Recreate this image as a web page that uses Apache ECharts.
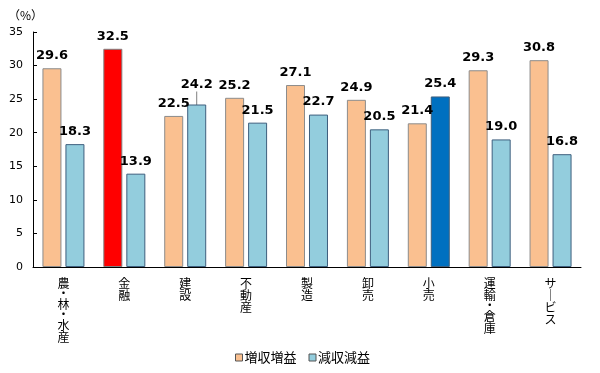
<!DOCTYPE html>
<html><head><meta charset="utf-8">
<script src="https://cdn.jsdelivr.net/npm/echarts@6/dist/echarts.min.js"></script>
<style>html,body{margin:0;padding:0;background:#fff}#c{width:600px;height:373px}</style>
</head><body><div id="c"></div>
<script>
const categories = ['農・林・水産','金融','建設','不動産','製造','卸売','小売','運輸・倉庫','サービス'];
const seriesNames = ['増収増益','減収減益'];
const zoushuValues = [29.6, 32.5, 22.5, 25.2, 27.1, 24.9, 21.4, 29.3, 30.8];
const genshuValues = [18.3, 13.9, 24.2, 21.5, 22.7, 20.5, 25.4, 19.0, 16.8];
const yTicks = [0,5,10,15,20,25,30,35];

const font = '"MS PGothic","Noto Sans CJK JP",sans-serif';
const chart = echarts.init(document.getElementById('c'), null, {renderer:'canvas'});

function catFmt(v){
  const chars = Array.from(v.replace('ー','｜'));
  return chars.map(ch => ch === '・' ? '{d|・}' : '{c|' + ch + '}').join('\n');
}

const peach = {color:'#FAC090', borderColor:'#8C8C8C', borderWidth:1};
const blue = {color:'#93CDDD', borderColor:'#3E5F7E', borderWidth:1};

const lbl = {show:true, position:'top', distance:6, color:'#000', fontWeight:'bold', fontSize:13, fontFamily:'Verdana,"DejaVu Sans",sans-serif'};

chart.setOption({
  animation:false,
  grid:{left:33, right:19, top:32, bottom:106},
  legend:{
    top:346, left:230, icon:'rect', itemWidth:7, itemHeight:7, itemGap:12,
    textStyle:{fontSize:13, color:'#000', fontFamily:font, padding:[0,0,0,-3]},
    data:[{name:seriesNames[0], itemStyle:{color:'#FAC090', borderColor:'#555', borderWidth:1}},
          {name:seriesNames[1], itemStyle:{color:'#93CDDD', borderColor:'#555', borderWidth:1}}]
  },
  graphic:[{type:'text', left:8, top:9, style:{text:'（%）', font:'12px '+font, fill:'#000'}}],
  xAxis:{
    type:'category', data:categories,
    axisLine:{lineStyle:{color:'#000'}},
    axisTick:{inside:true, length:4, lineStyle:{color:'#000'}},
    axisLabel:{
      interval:0, margin:10, formatter:catFmt, verticalAlign:'top',
      rich:{c:{fontSize:12, lineHeight:12, color:'#000', fontFamily:font}, d:{fontSize:12, lineHeight:9, color:'#000', fontFamily:font}}
    }
  },
  yAxis:{
    type:'value', min:0, max:35, interval:5,
    axisLine:{show:true, lineStyle:{color:'#000'}},
    axisTick:{show:true, inside:true, length:4, lineStyle:{color:'#000'}},
    splitLine:{show:false},
    axisLabel:{fontSize:11, color:'#000', margin:10, fontFamily:'Verdana,"DejaVu Sans",sans-serif'}
  },
  series:[
    {
      name:seriesNames[0], type:'bar', barWidth:19, barGap:'21%',
      itemStyle:peach,
      label:Object.assign({}, lbl, {formatter:p=>p.value.toFixed(1)}),
      data:zoushuValues.map((v,i)=> i===1 ? {value:v, itemStyle:{color:'#FF0000', borderColor:'#7F7F7F'}} : v)
    },
    {
      name:seriesNames[1], type:'bar', barWidth:19,
      itemStyle:blue,
      label:Object.assign({}, lbl, {formatter:p=>p.value.toFixed(1)}),
      labelLayout:function(p){ return p.dataIndex===2 ? {dy:-7} : {}; },
      data:genshuValues.map((v,i)=> {
        if (i===6) return {value:v, itemStyle:{color:'#0070C0', borderColor:'#3E5F7E'}};
        if (i===2) return {value:v, labelLine:{show:true, lineStyle:{color:'#7F7F7F', width:1}}};
        return v;
      })
    }
  ]
});
</script></body></html>
